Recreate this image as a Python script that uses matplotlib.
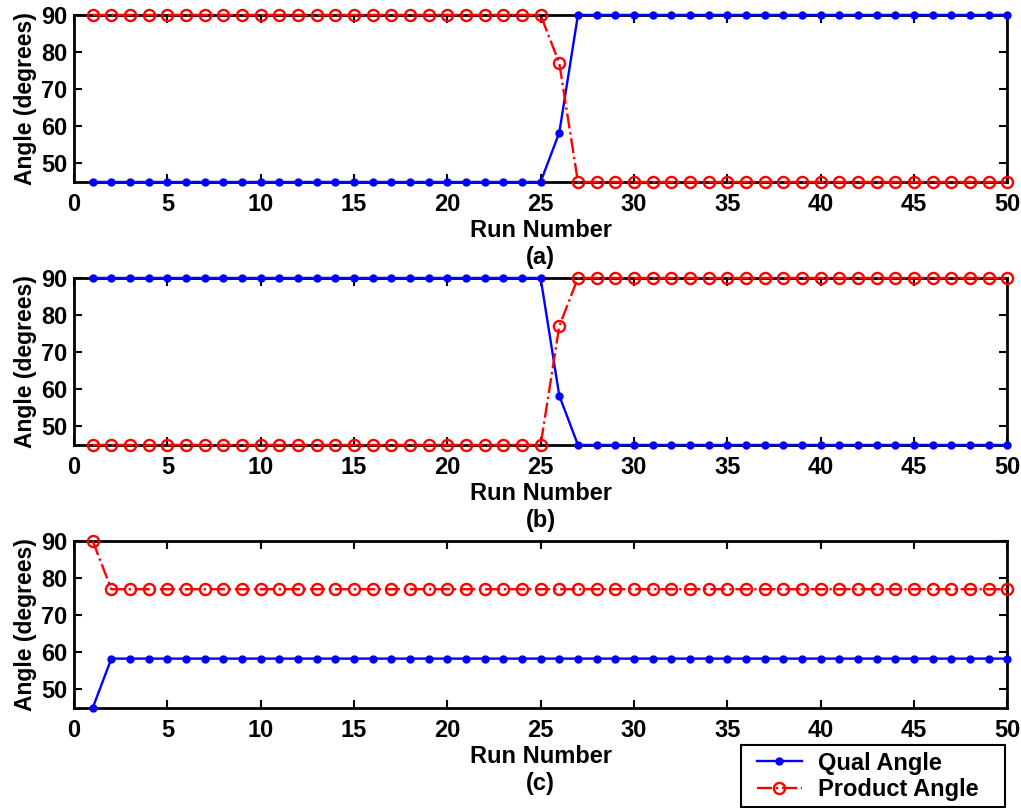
import numpy as np
import matplotlib
matplotlib.use('Agg')
import matplotlib.pyplot as plt
from matplotlib.patches import Rectangle

plt.rcParams['font.family'] = ['Liberation Sans', 'DejaVu Sans']
plt.rcParams['font.weight'] = 'bold'

# Run numbers and angle traces for the three cases
runs = np.arange(1, 51)
qual_a = [45.0] * 25 + [58.3] + [90.0] * 24
prod_a = [90.0] * 25 + [77.0] + [45.0] * 24
qual_b = [90.0] * 25 + [58.3] + [45.0] * 24
prod_b = [45.0] * 25 + [77.0] + [90.0] * 24
qual_c = [45.0] + [58.3] * 49
prod_c = [90.0] + [77.0] * 49
panel_tags = ['(a)', '(b)', '(c)']

fs = 17
W, H = 1021, 808
fig = plt.figure(figsize=(W / 100, H / 100), dpi=100)
bottoms = [0.7748, 0.4493, 0.1238]
series = [(qual_a, prod_a), (qual_b, prod_b), (qual_c, prod_c)]

for b, (q, p), tag in zip(bottoms, series, panel_tags):
    ax = fig.add_axes([0.0725, b, 0.914, 0.2067])
    lq, = ax.plot(runs, q, '-', color='#0000ff', lw=1.7, marker='o', ms=5,
                  mfc='#0000ff', mec='#0000ff', clip_on=False, zorder=3)
    lp, = ax.plot(runs, p, '-.', color='#ff0000', lw=1.7, marker='o', ms=8,
                  mfc='none', mec='#ff0000', mew=1.7, clip_on=False, zorder=4)
    ax.set_xlim(0, 50)
    ax.set_ylim(45, 90)
    ax.set_xticks(np.arange(0, 51, 5))
    ax.set_yticks(np.arange(50, 91, 10))
    ax.tick_params(direction='in', top=True, right=True, length=6, width=1.5,
                   labelsize=fs)
    ax.tick_params(axis='x', pad=8)
    ax.tick_params(axis='y', pad=5)
    for lab in ax.get_xticklabels() + ax.get_yticklabels():
        lab.set_fontweight('bold')
    for s in ax.spines.values():
        s.set_linewidth(2)
    ax.set_xlabel('Run Number' + '\n' + tag, fontsize=fs, fontweight='bold',
                  labelpad=2, linespacing=1.25)
    ax.set_ylabel('Angle (degrees)', fontsize=16.5, fontweight='bold', labelpad=3)

# legend box drawn separately so the entries can sit inside it freely
fig.patches.append(Rectangle((741 / W, 1 / H), 264 / W, 62 / H, transform=fig.transFigure,
                             facecolor='white', edgecolor='black', lw=1.5, zorder=5))
leg = fig.legend([lq, lp], ['Qual Angle', 'Product Angle'], loc='lower left',
                 bbox_to_anchor=(751 / W, 1 / H), borderaxespad=0, frameon=False,
                 prop={'size': fs, 'weight': 'bold'},
                 handlelength=1.9, handletextpad=0.7, borderpad=0.25, labelspacing=0.15)
leg.set_zorder(6)

plt.savefig('out.png', dpi=100)
plt.close()
